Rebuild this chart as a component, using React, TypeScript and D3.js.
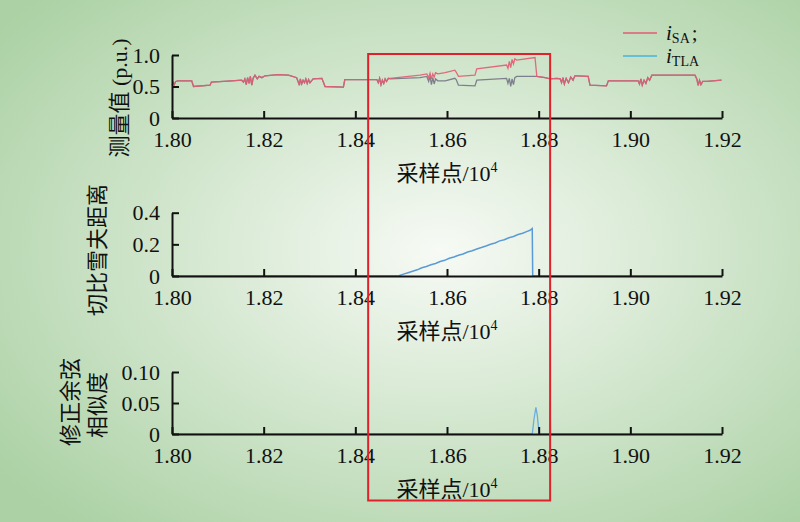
import React, { useEffect, useRef } from 'react';
import * as d3 from 'd3';

// 横轴刻度 (采样点/10^4)
const xTicks = [1.80, 1.82, 1.84, 1.86, 1.88, 1.90, 1.92];
const topTicks = [0, 0.5, 1.0];
const midTicks = [0, 0.2, 0.4];
const botTicks = [0, 0.05, 0.10];

// i_SA 测量值
const iSA: [number, number][] = [
  [1.8000, 0.52], [1.8003, 0.56], [1.8005, 0.53], [1.8008, 0.58], [1.8013, 0.59], [1.8043, 0.59],
  [1.8047, 0.50], [1.8083, 0.52], [1.8086, 0.57], [1.8130, 0.59], [1.8152, 0.60], [1.8156, 0.57],
  [1.8159, 0.62], [1.8162, 0.53], [1.8165, 0.64], [1.8168, 0.55], [1.8171, 0.66], [1.8174, 0.52],
  [1.8177, 0.63], [1.8181, 0.68], [1.8186, 0.62], [1.8190, 0.66], [1.8196, 0.64], [1.8203, 0.67],
  [1.8231, 0.69], [1.8254, 0.68], [1.8272, 0.64], [1.8275, 0.58], [1.8278, 0.52], [1.8280, 0.62],
  [1.8283, 0.54], [1.8286, 0.60], [1.8289, 0.56], [1.8292, 0.62], [1.8295, 0.55], [1.8298, 0.61],
  [1.8301, 0.56], [1.8308, 0.62], [1.8327, 0.63], [1.8334, 0.50], [1.8374, 0.49], [1.8377, 0.61],
  [1.8447, 0.61], [1.8450, 0.56], [1.8453, 0.63], [1.8456, 0.53], [1.8459, 0.60], [1.8462, 0.55],
  [1.8465, 0.62], [1.8468, 0.58], [1.8472, 0.63], [1.8476, 0.63], [1.8541, 0.68], [1.8556, 0.70],
  [1.8560, 0.64], [1.8563, 0.71], [1.8566, 0.62], [1.8569, 0.70], [1.8572, 0.65], [1.8575, 0.72],
  [1.8580, 0.70], [1.8596, 0.72], [1.8617, 0.76], [1.8620, 0.73], [1.8625, 0.66], [1.8661, 0.68],
  [1.8665, 0.78], [1.8730, 0.84], [1.8733, 0.79], [1.8736, 0.90], [1.8739, 0.80], [1.8742, 0.93],
  [1.8745, 0.86], [1.8748, 0.94], [1.8752, 0.92], [1.8792, 0.96], [1.8796, 0.66], [1.8814, 0.64],
  [1.8825, 0.62], [1.8840, 0.63], [1.8847, 0.62], [1.8850, 0.56], [1.8853, 0.64], [1.8856, 0.54],
  [1.8860, 0.63], [1.8865, 0.56], [1.8870, 0.65], [1.8875, 0.60], [1.8879, 0.67], [1.8883, 0.67],
  [1.8908, 0.66], [1.8912, 0.52], [1.8948, 0.51], [1.8952, 0.59], [1.9017, 0.59], [1.9020, 0.54],
  [1.9023, 0.62], [1.9026, 0.52], [1.9030, 0.60], [1.9034, 0.55], [1.9038, 0.64], [1.9042, 0.60],
  [1.9047, 0.68], [1.9141, 0.68], [1.9145, 0.62], [1.9148, 0.52], [1.9151, 0.60], [1.9154, 0.53],
  [1.9158, 0.58], [1.9167, 0.58], [1.9199, 0.60],
];

// i_TLA 与 i_SA 不重合的一段
const iTLAGap: [number, number][] = [
  [1.8476, 0.62], [1.8541, 0.64], [1.8556, 0.66], [1.8560, 0.58], [1.8563, 0.66], [1.8566, 0.53],
  [1.8569, 0.64], [1.8572, 0.54], [1.8575, 0.62], [1.8580, 0.59], [1.8596, 0.59], [1.8617, 0.63],
  [1.8620, 0.61], [1.8625, 0.52], [1.8661, 0.51], [1.8665, 0.60], [1.8730, 0.63], [1.8733, 0.55],
  [1.8736, 0.63], [1.8739, 0.50], [1.8742, 0.62], [1.8745, 0.53], [1.8748, 0.64], [1.8752, 0.66],
  [1.8792, 0.66], [1.8796, 0.66],
];

// 切比雪夫距离
const chebyshev: [number, number][] = [
  [1.8000, 0], [1.8300, 0.002], [1.8302, 0], [1.8490, 0], [1.8495, 0.002], [1.8505, 0.012],
  [1.8515, 0.021], [1.8525, 0.030], [1.8535, 0.039], [1.8545, 0.052], [1.8555, 0.060], [1.8565, 0.071],
  [1.8575, 0.079], [1.8585, 0.092], [1.8595, 0.099], [1.8605, 0.112], [1.8615, 0.120], [1.8625, 0.131],
  [1.8635, 0.139], [1.8645, 0.152], [1.8655, 0.160], [1.8665, 0.171], [1.8675, 0.180], [1.8685, 0.190],
  [1.8695, 0.201], [1.8705, 0.209], [1.8715, 0.222], [1.8725, 0.229], [1.8735, 0.242], [1.8745, 0.250],
  [1.8755, 0.262], [1.8765, 0.270], [1.8775, 0.282], [1.8781, 0.289], [1.8786, 0.300], [1.8787, 0],
  [1.9200, 0],
];

// 修正余弦相似度
const cosine: [number, number][] = [
  [1.8000, 0], [1.8786, 0], [1.8790, 0.025], [1.8794, 0.043], [1.8797, 0.03], [1.8801, 0],
  [1.8824, 0], [1.8825, 0.052], [1.8826, 0], [1.9200, 0],
];

const serif = "'Liberation Serif', 'Times New Roman', 'Noto Sans CJK SC', serif";

const App = () => {
  const svgRef = useRef<SVGSVGElement>(null);

  useEffect(() => {
    const width = 800;
    const height = 522;
    const svg = d3.select(svgRef.current);
    svg.selectAll('*').remove();
    svg.attr('width', width).attr('height', height);

    // 背景渐变
    const grad = svg.append('defs').append('radialGradient')
      .attr('id', 'bg')
      .attr('cx', '55%').attr('cy', '48%').attr('r', '70%');
    grad.append('stop').attr('offset', '0%').attr('stop-color', '#f7faf5');
    grad.append('stop').attr('offset', '100%').attr('stop-color', '#abd1a4');
    svg.append('rect').attr('width', width).attr('height', height).attr('fill', 'url(#bg)');

    const x = d3.scaleLinear().domain([1.80, 1.92]).range([172, 722]);

    const panels = [
      { top: 55, bottom: 118, max: 1.0, ticks: topTicks, fmt: d3.format('.1f') },
      { top: 212.7, bottom: 276, max: 0.4, ticks: midTicks, fmt: d3.format('.1f') },
      { top: 372, bottom: 434, max: 0.10, ticks: botTicks, fmt: d3.format('.2f') },
    ];

    const ys = panels.map(p => d3.scaleLinear().domain([0, p.max]).range([p.bottom, p.top]));

    const styleAxis = (g: any) => {
      g.selectAll('path').attr('stroke', '#111').attr('stroke-width', 2);
      g.selectAll('line').attr('stroke', '#111').attr('stroke-width', 2);
      g.selectAll('text')
        .attr('font-family', serif)
        .attr('font-size', 22)
        .attr('fill', '#111');
    };

    // 数据线
    const lineOf = (y: d3.ScaleLinear<number, number>) =>
      d3.line<[number, number]>().x(d => x(d[0])).y(d => y(d[1]));

    const iTLA = iSA
      .filter(d => d[0] < 1.8476 || d[0] > 1.8796)
      .concat(iTLAGap)
      .sort((a, b) => a[0] - b[0]);

    svg.append('path').datum(iTLA).attr('d', lineOf(ys[0]))
      .attr('fill', 'none').attr('stroke', '#7d808c').attr('stroke-width', 1.3);
    svg.append('path').datum(iSA).attr('d', lineOf(ys[0]))
      .attr('fill', 'none').attr('stroke', '#e35b72').attr('stroke-width', 1.3).attr('stroke-opacity', 0.9);

    svg.append('path').datum(chebyshev).attr('d', lineOf(ys[1]))
      .attr('fill', 'none').attr('stroke', '#5b9bd5').attr('stroke-width', 1.5);
    svg.append('path').datum(cosine).attr('d', lineOf(ys[2]))
      .attr('fill', 'none').attr('stroke', '#6aaee0').attr('stroke-width', 1.3);

    // 坐标轴
    panels.forEach((p, i) => {
      const gx = svg.append('g').attr('transform', `translate(0,${p.bottom})`)
        .call(d3.axisBottom(x).tickValues(xTicks).tickFormat(d3.format('.2f'))
          .tickSize(-7).tickSizeOuter(0).tickPadding(13));
      styleAxis(gx);
      const gy = svg.append('g').attr('transform', 'translate(172,0)')
        .call(d3.axisLeft(ys[i]).tickValues(p.ticks)
          .tickFormat((d: any) => (d === 0 ? '0' : p.fmt(d)))
          .tickSize(-7).tickSizeOuter(0).tickPadding(12));
      styleAxis(gy);

      const t = svg.append('text')
        .attr('x', 447).attr('y', p.bottom + 63)
        .attr('text-anchor', 'middle')
        .attr('font-family', serif).attr('font-size', 22).attr('fill', '#111');
      t.append('tspan').text('采样点/10');
      t.append('tspan').attr('font-size', 14).attr('dy', -9).text('4');
    });

    // 纵轴标题
    const yTitle = (text: string, cx: number, cy: number) =>
      svg.append('text')
        .attr('transform', `translate(${cx},${cy}) rotate(-90)`)
        .attr('text-anchor', 'middle')
        .attr('dy', '0.35em')
        .attr('font-family', serif).attr('font-size', 22).attr('fill', '#111')
        .text(text);
    yTitle('测量值 (p.u.)', 119, 98);
    yTitle('切比雪夫距离', 97, 250);
    yTitle('修正余弦', 70, 402);
    yTitle('相似度', 97, 405);

    // 图例
    const legend = [
      { name: 'SA', tail: ';', color: '#e35b72', y: 33 },
      { name: 'TLA', tail: '', color: '#45b6de', y: 56 },
    ];
    legend.forEach(l => {
      svg.append('line')
        .attr('x1', 623).attr('x2', 657).attr('y1', l.y).attr('y2', l.y)
        .attr('stroke', l.color).attr('stroke-width', 1.5);
      const t = svg.append('text')
        .attr('x', 666).attr('y', l.y + 7)
        .attr('font-family', serif).attr('font-size', 21).attr('fill', '#111');
      t.append('tspan').attr('font-style', 'italic').text('i');
      t.append('tspan').attr('font-size', 14).attr('dy', 3).text(l.name);
      if (l.tail) t.append('tspan').attr('dy', -3).attr('dx', 2).text(l.tail);
    });

    // 红色框
    svg.append('rect')
      .attr('x', x(1.8428)).attr('y', 54)
      .attr('width', x(1.8825) - x(1.8428)).attr('height', 446.5)
      .attr('fill', 'none').attr('stroke', '#e0202a').attr('stroke-width', 2);
  }, []);

  return (
    <svg ref={svgRef} style={{ position: 'absolute', left: 0, top: 0 }}></svg>
  );
};

export default App;
